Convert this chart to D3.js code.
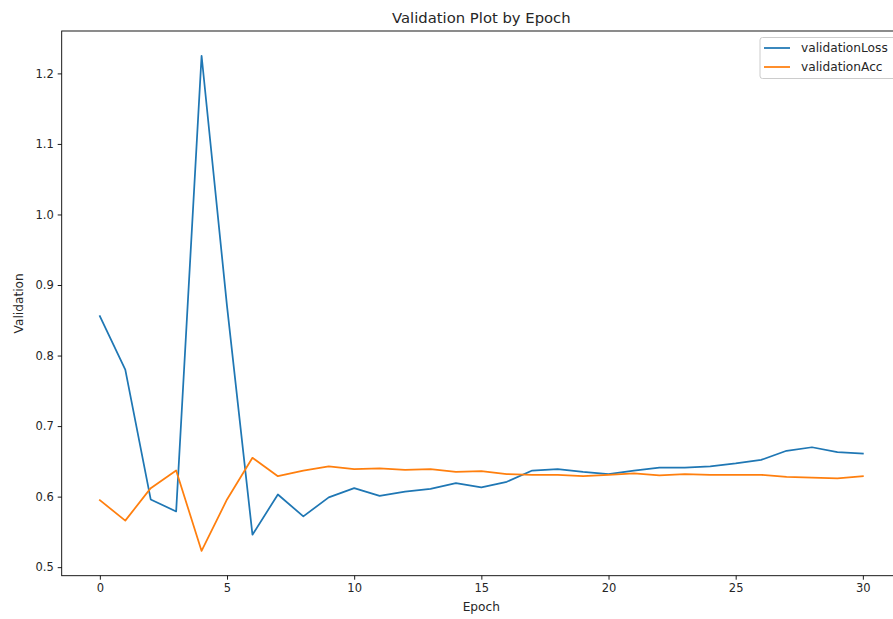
<!DOCTYPE html>
<html>
<head>
<meta charset="utf-8">
<script src="https://cdn.jsdelivr.net/npm/d3@7/dist/d3.min.js"></script>
<style>
  html, body { margin: 0; padding: 0; background: #fff; overflow: hidden; }
  svg { display: block; font-family: "DejaVu Sans", sans-serif; }
</style>
</head>
<body>
<svg id="chart" width="893" height="619"></svg>
<script>
// Validation metrics recorded after each training epoch
const epochs = d3.range(0, 31);
const validationLoss = [
  0.856, 0.780, 0.596, 0.579, 1.225, 0.870, 0.546, 0.603, 0.572, 0.599,
  0.612, 0.601, 0.607, 0.611, 0.619, 0.613, 0.621, 0.637, 0.639, 0.635,
  0.632, 0.637, 0.641, 0.641, 0.643, 0.647, 0.652, 0.665, 0.670, 0.663,
  0.661
];
const validationAcc = [
  0.595, 0.566, 0.612, 0.637, 0.523, 0.596, 0.655, 0.629, 0.637, 0.643,
  0.639, 0.640, 0.638, 0.639, 0.635, 0.636, 0.632, 0.631, 0.631, 0.629,
  0.631, 0.633, 0.630, 0.632, 0.631, 0.631, 0.631, 0.628, 0.627, 0.626,
  0.629
];
const seriesNames = ["validationLoss", "validationAcc"];
const seriesColors = ["#1f77b4", "#ff7f0e"];
const xTicks = [0, 5, 10, 15, 20, 25, 30];
const yTicks = [0.5, 0.6, 0.7, 0.8, 0.9, 1.0, 1.1, 1.2];

const svg = d3.select("#chart");
const plot = { left: 61.7, right: 901, top: 31, bottom: 575.7 };

// Axis limits padded by 5% of the data span on each side
const xPad = (d3.max(epochs) - d3.min(epochs)) * 0.05;
const allVals = validationLoss.concat(validationAcc);
const yMin = d3.min(allVals), yMax = d3.max(allVals);
const yPad = (yMax - yMin) * 0.05;

const x = d3.scaleLinear()
  .domain([d3.min(epochs) - xPad, d3.max(epochs) + xPad])
  .range([plot.left, plot.right]);
const y = d3.scaleLinear()
  .domain([yMin - yPad, yMax + yPad])
  .range([plot.bottom, plot.top]);

const textColor = "#262626";
const tickFont = 11.5;
const labelFont = 12.2;

// Axes
const xAxis = svg.append("g")
  .attr("transform", `translate(0,${plot.bottom})`)
  .call(d3.axisBottom(x).tickValues(xTicks).tickFormat(d3.format("d")).tickSize(4).tickPadding(4));
const yAxis = svg.append("g")
  .attr("transform", `translate(${plot.left},0)`)
  .call(d3.axisLeft(y).tickValues(yTicks).tickFormat(d3.format(".1f")).tickSize(4).tickPadding(4));

[xAxis, yAxis].forEach(g => {
  g.select(".domain").remove();
  g.selectAll(".tick line").attr("stroke", "#000").attr("stroke-width", 0.9);
  g.selectAll(".tick text")
    .attr("fill", textColor)
    .style("font-size", tickFont + "px")
    .style("font-family", "DejaVu Sans, sans-serif");
});

// Lines
const line = d3.line().x((d, i) => x(epochs[i])).y(d => y(d));
[validationLoss, validationAcc].forEach((vals, k) => {
  svg.append("path")
    .datum(vals)
    .attr("fill", "none")
    .attr("stroke", seriesColors[k])
    .attr("stroke-width", 1.75)
    .attr("stroke-linejoin", "round")
    .attr("stroke-linecap", "square")
    .attr("d", line);
});

// Frame around the plotting area
svg.append("rect")
  .attr("x", plot.left).attr("y", plot.top)
  .attr("width", plot.right - plot.left)
  .attr("height", plot.bottom - plot.top)
  .attr("fill", "none")
  .attr("stroke", "#000")
  .attr("stroke-width", 0.9);

// Title and axis labels
svg.append("text")
  .attr("x", (plot.left + plot.right) / 2)
  .attr("y", 23)
  .attr("text-anchor", "middle")
  .attr("fill", textColor)
  .style("font-size", "14.8px")
  .text("Validation Plot by Epoch");

svg.append("text")
  .attr("x", (plot.left + plot.right) / 2)
  .attr("y", 611)
  .attr("text-anchor", "middle")
  .attr("fill", textColor)
  .style("font-size", labelFont + "px")
  .text("Epoch");

svg.append("text")
  .attr("transform", `translate(23,${(plot.top + plot.bottom) / 2}) rotate(-90)`)
  .attr("text-anchor", "middle")
  .attr("fill", textColor)
  .style("font-size", labelFont + "px")
  .text("Validation");

// Legend in the upper right corner
const legend = svg.append("g").attr("transform", "translate(760,37.5)");
legend.append("rect")
  .attr("x", 0).attr("y", 0)
  .attr("width", 140).attr("height", 41)
  .attr("rx", 2.5)
  .attr("fill", "#fff")
  .attr("fill-opacity", 0.8)
  .attr("stroke", "#cccccc")
  .attr("stroke-width", 1);
seriesNames.forEach((name, i) => {
  const cy = 10.5 + i * 19;
  legend.append("line")
    .attr("x1", 4).attr("x2", 30)
    .attr("y1", cy).attr("y2", cy)
    .attr("stroke", seriesColors[i])
    .attr("stroke-width", 1.75);
  legend.append("text")
    .attr("x", 41).attr("y", cy + 4)
    .attr("fill", textColor)
    .style("font-size", labelFont + "px")
    .text(name);
});
</script>
</body>
</html>
